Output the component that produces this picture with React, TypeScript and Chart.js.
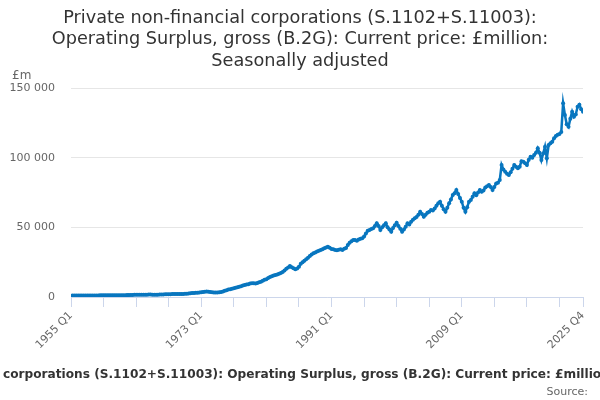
import { useEffect, useRef } from "react"
import { Chart, registerables } from "chart.js"

Chart.register(...registerables)

// Quarterly series, 1955 Q1 to 2025 Q4, £ million (one row per year)
const startYear = 1955
const surplus: number[] = [
  980, 1000, 1020, 1030,
  1040, 1050, 1050, 1060,
  1080, 1100, 1110, 1100,
  1100, 1110, 1130, 1150,
  1170, 1210, 1250, 1290,
  1320, 1330, 1320, 1310,
  1320, 1310, 1300, 1290,
  1290, 1310, 1330, 1350,
  1390, 1440, 1490, 1530,
  1570, 1600, 1630, 1650,
  1670, 1690, 1700, 1710,
  1710, 1690, 1670, 1650,
  1690, 1740, 1790, 1850,
  1910, 1950, 1990, 2040,
  2070, 2090, 2110, 2130,
  2140, 2170, 2200, 2250,
  2380, 2520, 2660, 2800,
  2900, 3000, 3100, 3250,
  3450, 3650, 3800, 3900,
  3750, 3500, 3350, 3300,
  3250, 3300, 3400, 3650,
  4000, 4500, 4900, 5300,
  5600, 5900, 6300, 6700,
  7000, 7400, 7800, 8200,
  8600, 8900, 9200, 9600,
  9800, 9900, 9700, 10000,
  10500, 11000, 11700, 12300,
  12800, 13700, 14400, 14900,
  15400, 15800, 16200, 16700,
  17300, 18000, 19000, 20200,
  21200, 22200, 21400, 20600,
  20000, 20400, 21800, 23800,
  25000, 26000, 27100, 28200,
  29500, 30500, 31400, 32000,
  32600, 33200, 33700, 34300,
  35000, 35600, 36100, 35400,
  34500, 34200, 33800, 33500,
  33900, 34200, 33800, 34600,
  35200, 37300, 39000, 40000,
  40900, 40900, 40300, 41200,
  41800, 42100, 43500, 45500,
  47500, 48000, 48800, 49300,
  51000, 52900, 51000, 48100,
  50000, 51500, 52900, 50000,
  48500, 46900, 49500, 51500,
  53300, 51000, 49000, 46900,
  48500, 50500, 52900, 52000,
  54000, 55500, 56500, 57500,
  59000, 61200, 59500, 57600,
  59000, 60500, 61200, 62400,
  62000, 63600, 65500, 67200,
  68400, 65500, 63000, 61200,
  64000, 67200, 70000, 73200,
  74500, 76800, 74000, 71000,
  68400, 64000, 61200, 64500,
  68400, 69600, 72000, 74400,
  73000, 75000, 76800, 75500,
  76500, 78500, 79500, 80400,
  79000, 76800, 79000, 81500,
  82000, 84000, 94700, 91500,
  89900, 88500, 87600, 89500,
  92000, 94700, 93500, 92400,
  93500, 97500, 97100, 96000,
  94700, 98500, 100700, 100000,
  101900, 103500, 106700, 103500,
  98300, 103000, 107900, 99500,
  109100, 110300, 111500, 113900,
  115500, 116500, 117000, 118500,
  139000, 130600, 124000, 122200,
  128000, 133000, 129400, 131000,
  136500, 138000, 134800, 133000,
]

const quarters = surplus.map((_, i) => `${startYear + Math.floor(i / 4)} Q${(i % 4) + 1}`)
const labelledQuarters = ["1955 Q1", "1973 Q1", "1991 Q1", "2009 Q1", "2025 Q4"]
const tickEvery = 18
const yTicks = [0, 50000, 100000, 150000]

const titleLines = [
  "Private non-financial corporations (S.1102+S.11003):",
  "Operating Surplus, gross (B.2G): Current price: £million:",
  "Seasonally adjusted",
]
const seriesName =
  "Private non-financial corporations (S.1102+S.11003): Operating Surplus, gross (B.2G): Current price: £million: Seasonally adjusted"
const unitLabel = "£m"
const sourceLabel = "Source:"

const font = "'DejaVu Sans', sans-serif"
const lineColour = "#0876bf"

const extras = {
  id: "extras",
  afterDraw(chart: Chart) {
    const ctx = chart.ctx
    ctx.save()
    ctx.fillStyle = "#666666"
    ctx.font = `12px ${font}`
    ctx.textAlign = "left"
    ctx.textBaseline = "alphabetic"
    ctx.fillText(unitLabel, 12, 79)

    // legend item, wider than the canvas and cut off at both sides
    ctx.fillStyle = "#333333"
    ctx.font = `bold 12.15px ${font}`
    const hidden = ctx.measureText("Private non-financial ").width
    ctx.fillText(seriesName, 3 - hidden, 378)

    ctx.fillStyle = "#666666"
    ctx.font = `11px ${font}`
    ctx.textAlign = "right"
    ctx.fillText(sourceLabel, 588, 395)
    ctx.restore()
  },
}

export default function App() {
  const canvasRef = useRef<HTMLCanvasElement>(null)

  useEffect(() => {
    document.body.style.margin = "0"
    if (!canvasRef.current) return
    const last = quarters.length - 1
    const tickValues: number[] = []
    for (let i = 0; i <= last; i += tickEvery) tickValues.push(i)
    if (tickValues[tickValues.length - 1] !== last) tickValues.push(last)

    const chart = new Chart(canvasRef.current, {
      type: "line",
      data: {
        datasets: [
          {
            label: seriesName,
            data: surplus.map((v, i) => ({ x: i, y: v })),
            borderColor: lineColour,
            backgroundColor: lineColour,
            borderWidth: 2.5,
            pointRadius: 2,
            pointBorderWidth: 0,
            pointBackgroundColor: lineColour,
            tension: 0,
          },
        ],
      },
      options: {
        responsive: false,
        animation: false,
        layout: { padding: 0 },
        plugins: {
          legend: { display: false },
          tooltip: { enabled: false },
          title: {
            display: true,
            text: titleLines,
            color: "#333333",
            font: { family: font, size: 17.7, weight: "normal", lineHeight: "21.5px" },
            padding: { top: 7.5, bottom: 16 },
          },
        },
        scales: {
          x: {
            type: "linear",
            min: 0,
            max: last,
            afterBuildTicks: (axis: any) => {
              axis.ticks = tickValues.map((value) => ({ value }))
            },
            afterFit: (axis: any) => {
              axis.height = 103
            },
            grid: {
              drawOnChartArea: false,
              drawTicks: true,
              tickLength: 10,
              color: "#ccd6eb",
            },
            border: { color: "#ccd6eb" },
            ticks: {
              autoSkip: false,
              minRotation: 45,
              maxRotation: 45,
              padding: 2,
              color: "#666666",
              font: { family: font, size: 11 },
              callback: (value: any) => {
                const q = quarters[Math.round(Number(value))]
                return labelledQuarters.includes(q) ? q : ""
              },
            },
          },
          y: {
            min: 0,
            max: 150000,
            afterBuildTicks: (axis: any) => {
              axis.ticks = yTicks.map((value) => ({ value }))
            },
            afterFit: (axis: any) => {
              axis.width = 71
            },
            grid: { color: "#e6e6e6", drawTicks: false },
            border: { display: false },
            ticks: {
              padding: 16,
              color: "#666666",
              font: { family: font, size: 11 },
              callback: (value: any) => Number(value).toLocaleString("en-US").replace(/,/g, " "),
            },
          },
          // empty right-hand gutter, so the title stays centred on the page
          gutter: {
            position: "right",
            min: 0,
            max: 1,
            grid: { display: false },
            border: { display: false },
            ticks: { display: false },
            afterFit: (axis: any) => {
              axis.width = 17
            },
          },
        },
      },
      plugins: [extras],
    })

    return () => {
      chart.destroy()
    }
  }, [])

  return (
    <div style={{ width: 600, height: 400 }}>
      <canvas ref={canvasRef} width={600} height={400} />
    </div>
  )
}
